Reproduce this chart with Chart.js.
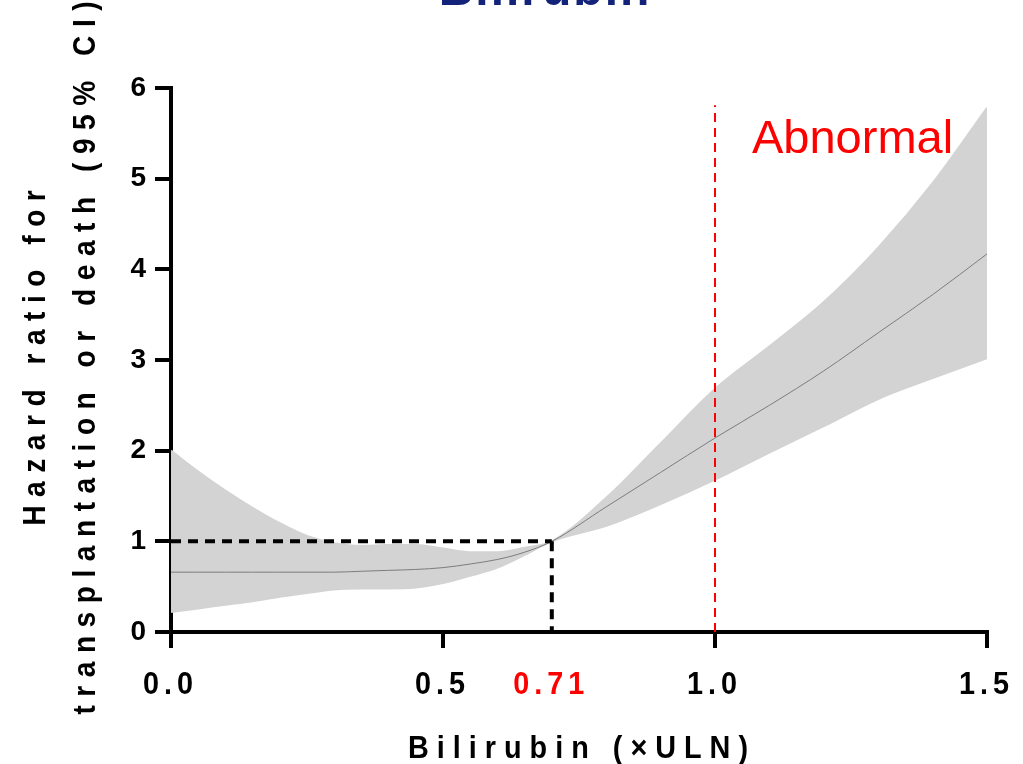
<!DOCTYPE html>
<html>
<head>
<meta charset="utf-8">
<script src="https://cdn.jsdelivr.net/npm/chart.js@4"></script>
<style>
  body { margin: 0; background: #fff; }
  #wrap { width: 1023px; height: 764px; }
</style>
</head>
<body>
<div id="wrap"><canvas id="hrChart"></canvas></div>
<script>
// values
const bili = [0, 0.05, 0.1, 0.15, 0.2, 0.25, 0.3, 0.35, 0.4, 0.45, 0.5, 0.55, 0.6, 0.65, 0.7, 0.8, 0.9, 1.0, 1.1, 1.2, 1.3, 1.4, 1.5];
const hr =      [0.66, 0.66, 0.66, 0.66, 0.66, 0.66, 0.66, 0.67, 0.68, 0.69, 0.71, 0.75, 0.80, 0.88, 1.0, 1.38, 1.76, 2.14, 2.50, 2.88, 3.30, 3.72, 4.17];
const ciUpper = [2.0, 1.77, 1.56, 1.37, 1.20, 1.06, 0.98, 0.95, 0.96, 0.96, 0.92, 0.88, 0.88, 0.93, 1.0, 1.48, 2.08, 2.68, 3.15, 3.64, 4.24, 4.95, 5.78];
const ciLower = [0.22, 0.26, 0.30, 0.34, 0.39, 0.43, 0.47, 0.48, 0.48, 0.49, 0.54, 0.62, 0.71, 0.85, 1.0, 1.17, 1.41, 1.68, 1.98, 2.27, 2.57, 2.80, 3.02];

const xTicks = [0, 0.5, 0.7, 1.0, 1.5];
const xTickLabels = ["0.0", "0.5", "0.71", "1.0", "1.5"];
const yTicks = [0, 1, 2, 3, 4, 5, 6];
const cutX = 0.7;      // drawn where the 0.71 marker sits
const cutHr = 1;
const abnormalX = 1.0;
const abnormalTop = 5.81;

const pts = (ys) => bili.map((x, i) => ({ x, y: ys[i] }));

const FONT = "Arial, 'Liberation Sans', sans-serif";

// narrow, letter-spaced text like the source figure
function spaced(ctx, text, x, y, spacing, sx) {
  ctx.save();
  ctx.translate(x, y);
  ctx.scale(sx, 1);
  ctx.letterSpacing = `${spacing / sx}px`;
  ctx.fillText(text, spacing / sx / 2, 0);
  ctx.restore();
}

const textPlugin = {
  id: "texts",
  afterDraw(chart) {
    const { ctx, scales } = chart;
    const xs = scales.x;
    const ys = scales.y;
    ctx.save();
    ctx.textBaseline = "alphabetic";
    ctx.textAlign = "center";

    // title (cut off at the top like the source)
    ctx.fillStyle = "#14237a";
    ctx.font = `bold 48px ${FONT}`;
    ctx.letterSpacing = "2px";
    ctx.fillText("Bilirubin", 545, 5);

    // x tick labels
    ctx.font = `bold 32px ${FONT}`;
    xTicks.forEach((v, i) => {
      ctx.fillStyle = v === cutX ? "#ff0000" : "#000";
      spaced(ctx, xTickLabels[i], xs.getPixelForValue(v) - 3, 694, 5, 0.9);
    });

    // x title
    ctx.fillStyle = "#000";
    spaced(ctx, "Bilirubin (\u00d7ULN)", 578, 758, 8, 0.9);

    // y title, two lines
    ctx.save();
    ctx.translate(45, 358);
    ctx.rotate(-Math.PI / 2);
    ctx.font = `bold 32px ${FONT}`;
    spaced(ctx, "Hazard ratio for", 0, 0, 8.5, 0.88);
    spaced(ctx, "transplantation or death (95% CI)", 0, 50, 8.5, 0.88);
    ctx.restore();

    // Abnormal label
    ctx.letterSpacing = "0px";
    ctx.textAlign = "left";
    ctx.fillStyle = "#ff0000";
    ctx.font = `47px ${FONT}`;
    ctx.fillText("Abnormal", xs.getPixelForValue(1.068), ys.getPixelForValue(5.28));
    ctx.restore();
  }
};

const axisGrid = (skip) => ({
  drawOnChartArea: false,
  drawTicks: true,
  tickLength: 16,
  lineWidth: 4,
  color: (c) => (c.tick && c.tick.value === skip ? "rgba(0,0,0,0)" : "#000")
});

new Chart(document.getElementById("hrChart"), {
  type: "line",
  data: {
    datasets: [
      {
        data: [{ x: 0, y: cutHr }, { x: cutX, y: cutHr }],
        borderColor: "#000", borderWidth: 4, borderDash: [10, 7],
        pointRadius: 0, fill: false, order: 0
      },
      {
        data: [{ x: cutX, y: cutHr }, { x: cutX, y: 0 }],
        borderColor: "#000", borderWidth: 4, borderDash: [10, 7],
        pointRadius: 0, fill: false, order: 0
      },
      {
        data: [{ x: abnormalX, y: 0 }, { x: abnormalX, y: abnormalTop }],
        borderColor: "#ff0000", borderWidth: 2, borderDash: [9, 6],
        pointRadius: 0, fill: false, order: 0
      },
      {
        data: pts(hr),
        borderColor: "#7d7d7d", borderWidth: 1,
        pointRadius: 0, fill: false, cubicInterpolationMode: "monotone", order: 1
      },
      {
        data: pts(ciUpper),
        borderColor: "#d3d3d3", backgroundColor: "#d3d3d3", borderWidth: 2,
        pointRadius: 0, fill: "+1", cubicInterpolationMode: "monotone", order: 2
      },
      {
        data: pts(ciLower),
        borderColor: "#d3d3d3", borderWidth: 2,
        pointRadius: 0, fill: false, cubicInterpolationMode: "monotone", order: 2
      }
    ]
  },
  options: {
    responsive: true,
    maintainAspectRatio: false,
    animation: false,
    layout: { padding: { top: 88, right: 36, left: 0, bottom: 0 } },
    plugins: { legend: { display: false }, tooltip: { enabled: false } },
    scales: {
      x: {
        type: "linear",
        min: 0,
        max: 1.5,
        afterBuildTicks: (s) => { s.ticks = xTicks.map((v) => ({ value: v })); },
        afterFit: (s) => { s.height = 132; },
        ticks: { display: false },
        grid: axisGrid(cutX),
        border: { display: true, width: 4, color: "#000" }
      },
      y: {
        min: 0,
        max: 6,
        afterBuildTicks: (s) => { s.ticks = yTicks.map((v) => ({ value: v })); },
        afterFit: (s) => { s.width = 171; },
        ticks: {
          color: "#000",
          padding: 9,
          font: { family: FONT, size: 28, weight: "bold" }
        },
        grid: axisGrid(null),
        border: { display: true, width: 4, color: "#000" }
      }
    }
  },
  plugins: [textPlugin]
});
</script>
</body>
</html>
